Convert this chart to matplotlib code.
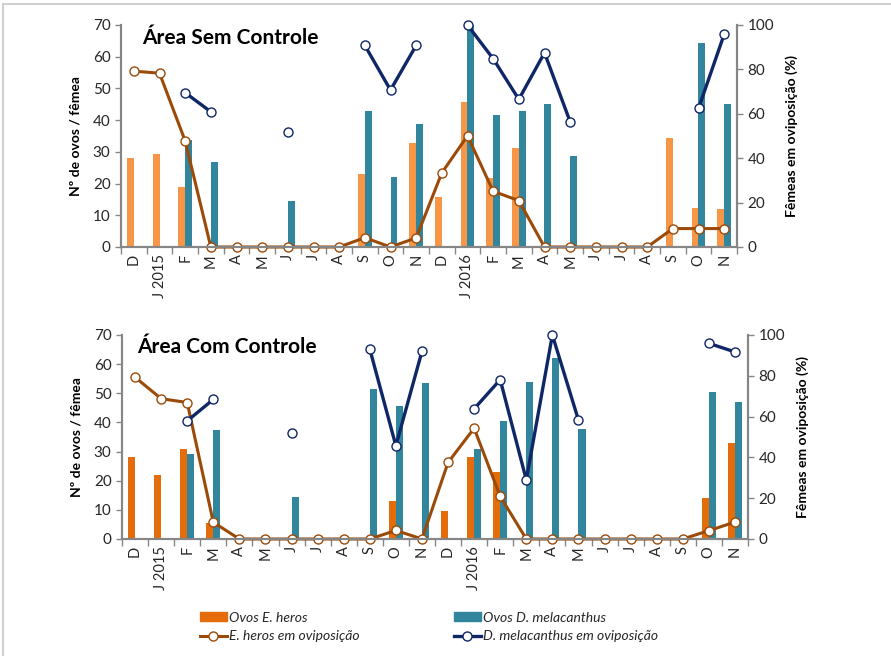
import matplotlib
matplotlib.use("Agg")
import matplotlib.pyplot as plt
import numpy as np
from matplotlib.lines import Line2D
from matplotlib.patches import Patch, Rectangle

nan = np.nan

meses = ["D", "J 2015", "F", "M", "A", "M", "J", "J", "A", "S", "O", "N",
         "D", "J 2016", "F", "M", "A", "M", "J", "J", "A", "S", "O", "N"]

# Área Sem Controle
sem_ovos_eh = [28, 29.2, 18.8, 0, 0, 0, 0, 0, 0, 22.9, 0, 32.9,
               15.9, 45.8, 21.6, 31.3, 0, 0, 0, 0, 0, 34.4, 12.4, 11.9]
sem_ovos_dm = [0, 0, 33.8, 26.8, 0, 0, 14.4, 0, 0, 42.8, 22.2, 38.7,
               0, 70, 41.6, 42.8, 45.2, 28.6, 0, 0, 0, 0, 64.3, 45.1]
sem_ovip_eh = [79.2, 78.3, 47.8, 0, 0, 0, 0, 0, 0, 4.2, 0, 4.1,
               33.4, 50.1, 25.1, 20.9, 0, 0, 0, 0, 0, 8.3, 8.3, 8.3]
sem_ovip_dm = [nan, nan, 69.5, 60.9, nan, nan, 52.0, nan, nan, 90.8, 70.7, 90.8,
               nan, 100, 84.8, 66.5, 87.5, 56.4, nan, nan, nan, nan, 62.4, 95.8]

# Área Com Controle
com_ovos_eh = [28.2, 22.0, 31.0, 5.4, 0, 0, 0, 0, 0, 0, 12.9, 0,
               9.5, 28.2, 22.9, 0, 0, 0, 0, 0, 0, 0, 13.9, 33.0]
com_ovos_dm = [0, 0, 29.2, 37.3, 0, 0, 14.4, 0, 0, 51.6, 45.7, 53.7,
               0, 31.0, 40.6, 53.9, 62.1, 37.7, 0, 0, 0, 0, 50.6, 46.9]
com_ovip_eh = [79.3, 68.8, 66.9, 8.2, 0, 0, 0, 0, 0, 0, 4.2, 0,
               37.5, 54.3, 20.9, 0, 0, 0, 0, 0, 0, 0, 4.1, 8.3]
com_ovip_dm = [nan, nan, 57.9, 68.4, nan, nan, 52.2, nan, nan, 93.1, 45.7, 92.0,
               nan, 63.8, 78.1, 29.0, 100, 58.3, nan, nan, nan, nan, 95.9, 91.7]

plt.rcParams['font.family'] = ['Lato', 'DejaVu Sans']
plt.rcParams['font.size'] = 9

cor_eh_claro = "#F79646"
cor_eh_escuro = "#E46C0A"
cor_dm = "#31859C"
cor_linha_eh = "#9C4A08"
cor_linha_dm = "#0F2766"
cinza = "#868686"
texto = "#262626"

fig = plt.figure(figsize=(8.91, 6.56), dpi=100)
fig.patches.append(Rectangle((3 / 891, -0.1), 1.2, 1 - 4 / 656 + 0.1,
                             transform=fig.transFigure, fill=False,
                             edgecolor="#D0D0D0", linewidth=1.5))

x = np.arange(len(meses))
w = 0.27


def painel(rect, titulo, tx, ty, ovos_eh, ovos_dm, ovip_eh, ovip_dm, cor_eh):
    ax = fig.add_axes(rect)
    ax.bar(x - w / 2, ovos_eh, w, color=cor_eh)
    ax.bar(x + w / 2, ovos_dm, w, color=cor_dm)
    ax.set_xlim(-0.5, len(meses) - 0.5)
    ax.set_ylim(0, 70)
    ax.set_yticks(range(0, 71, 10))
    ax.set_xticks(x)
    ax.set_xticklabels(meses, rotation=90, color=texto, fontsize=10.5)
    ax.set_xticks(np.arange(-0.5, len(meses), 1), minor=True)
    ax.tick_params(axis='x', which='major', length=0, pad=5)
    ax.tick_params(axis='x', which='minor', length=5, color=cinza, width=1)
    ax.tick_params(axis='y', length=4, color=cinza, width=1, labelcolor=texto,
                   labelsize=11)
    ax.set_ylabel("Nº de ovos / fêmea", fontweight='bold', fontsize=10, labelpad=8)
    ax.spines['top'].set_visible(False)
    for s in ['left', 'bottom', 'right']:
        ax.spines[s].set_color(cinza)
        ax.spines[s].set_linewidth(1.5)
    ax.text(tx, ty, titulo, transform=ax.transAxes, fontsize=15,
            fontweight='bold', va='top', ha='left', color='black')

    ax2 = ax.twinx()
    ax2.plot(x, ovip_eh, color=cor_linha_eh, lw=2.2, marker='o', ms=6.5,
             mfc='white', mec=cor_linha_eh, mew=1)
    ax2.plot(x, ovip_dm, color=cor_linha_dm, lw=2.4, marker='o', ms=6.5,
             mfc='white', mec=cor_linha_dm, mew=1)
    ax2.set_ylim(0, 100)
    ax2.set_yticks(range(0, 101, 20))
    ax2.tick_params(axis='y', length=4, color=cinza, width=1, labelcolor=texto,
                    labelsize=11)
    ax2.set_ylabel("Fêmeas em oviposição (%)", fontweight='bold', fontsize=10,
                   labelpad=8)
    ax2.spines['top'].set_visible(False)
    for s in ['left', 'bottom', 'right']:
        ax2.spines[s].set_color(cinza)
        ax2.spines[s].set_linewidth(1.5)
    for l in ax2.get_lines():
        l.set_clip_on(False)
    return ax, ax2


painel([121 / 891, 1 - 247 / 656, 616 / 891, 222 / 656], "Área Sem Controle",
       0.035, 0.985, sem_ovos_eh, sem_ovos_dm, sem_ovip_eh, sem_ovip_dm,
       cor_eh_claro)
painel([122 / 891, 1 - 539 / 656, 626 / 891, 204 / 656], "Área Com Controle",
       0.024, 0.99, com_ovos_eh, com_ovos_dm, com_ovip_eh, com_ovip_dm,
       cor_eh_escuro)

h1 = [Patch(color=cor_eh_escuro),
      Line2D([], [], color=cor_linha_eh, lw=2.2, marker='o', ms=6.5, mfc='white',
             mec=cor_linha_eh)]
h2 = [Patch(color=cor_dm),
      Line2D([], [], color=cor_linha_dm, lw=2.4, marker='o', ms=6.5, mfc='white',
             mec=cor_linha_dm)]
leg1 = fig.legend(h1, ["Ovos E. heros", "E. heros em oviposição"],
                  loc='upper left', bbox_to_anchor=(187 / 891, 1 - 599 / 656),
                  frameon=False, handlelength=2.0, handleheight=0.6,
                  handletextpad=0.15, labelspacing=0.5,
                  prop={'style': 'italic', 'size': 10})
leg2 = fig.legend(h2, ["Ovos D. melacanthus", "D. melacanthus em oviposição"],
                  loc='upper left', bbox_to_anchor=(441 / 891, 1 - 599 / 656),
                  frameon=False, handlelength=2.0, handleheight=0.6,
                  handletextpad=0.15, labelspacing=0.5,
                  prop={'style': 'italic', 'size': 10})
for lg in (leg1, leg2):
    for t in lg.get_texts():
        t.set_color(texto)

fig.savefig("out.png", dpi=100)
